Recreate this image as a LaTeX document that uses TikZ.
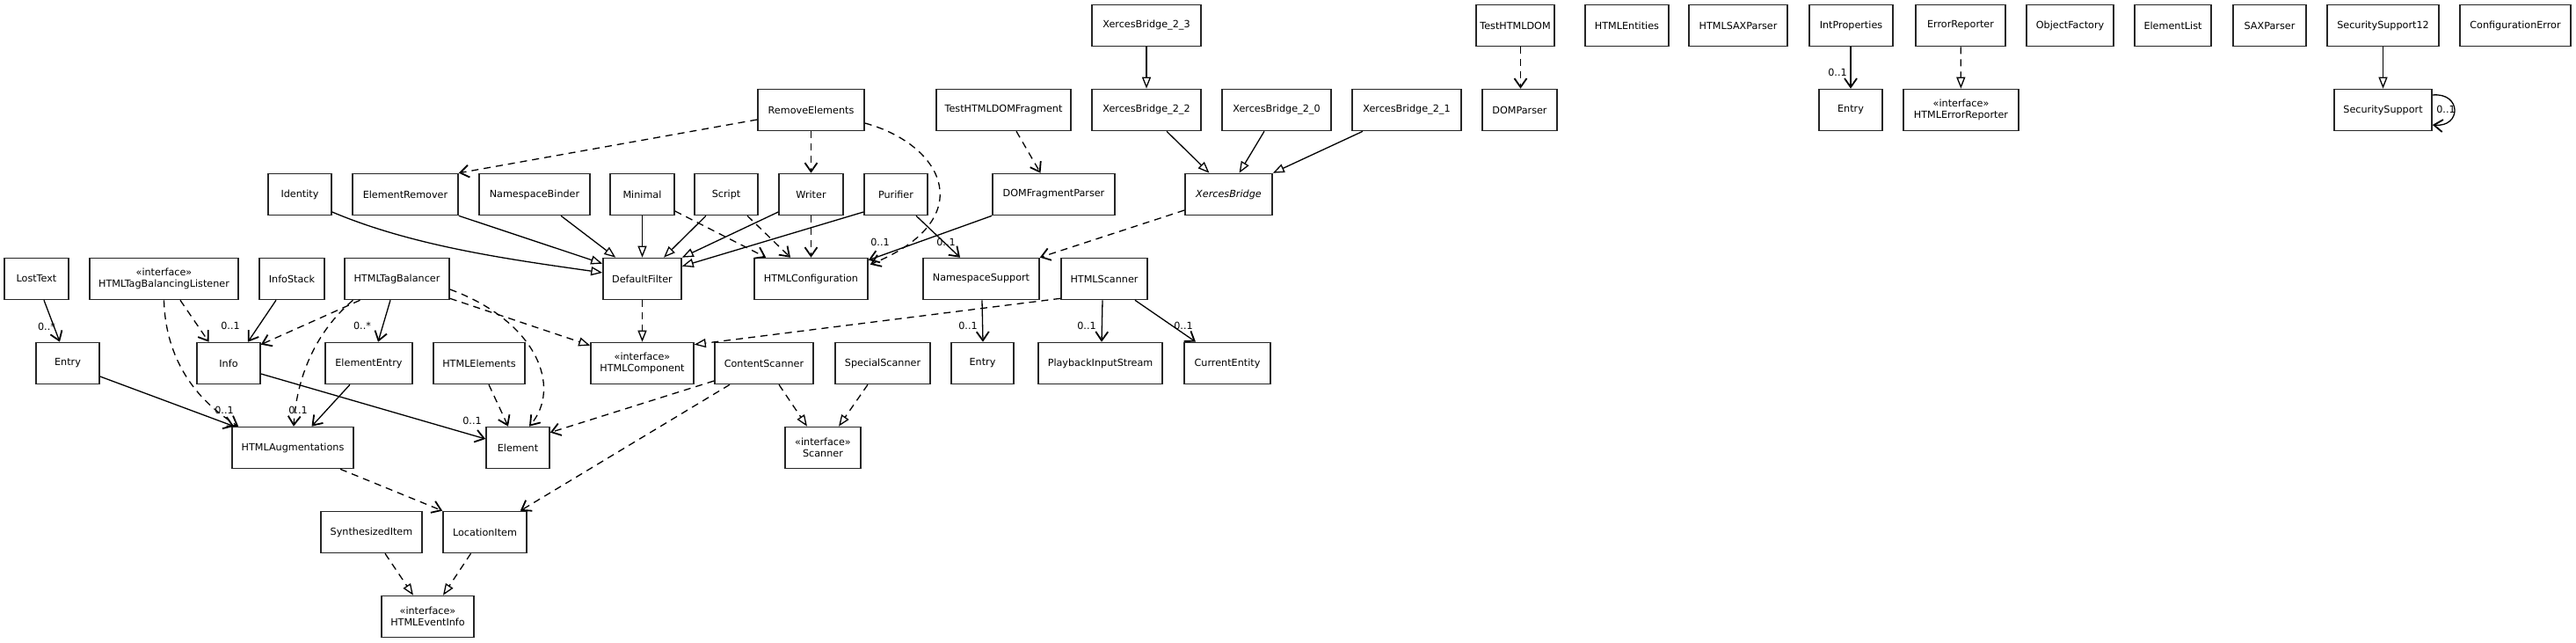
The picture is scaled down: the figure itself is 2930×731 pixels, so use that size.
\documentclass[tikz,border=0pt]{standalone}
\usepackage{fontspec}
\setmainfont{DejaVu Sans}
\usetikzlibrary{arrows.meta,calc}
\begin{document}
\begin{tikzpicture}[x=0.5pt,y=-0.5pt,
  box/.style={draw=black!85,line width=0.8pt,minimum height=23.5pt,inner sep=0pt,align=center,font=\fontsize{5.6}{6.4}\selectfont,text=black},
  bw/.style={minimum width=#1pt},
  lbl/.style={inner sep=0pt,font=\fontsize{5.6}{6.4}\selectfont,text=black},
  conn/.style={line width=0.65pt},
  dep/.style={conn,dash pattern=on 4pt off 3pt,-{Straight Barb[length=5pt,width=7pt,line width=0.9pt]}},
  assoc/.style={conn,-{Straight Barb[length=5pt,width=7pt,line width=0.9pt]}},
  gen/.style={conn,-{Triangle[length=6.5pt,width=5pt,fill=white]}},
  real/.style={conn,dash pattern=on 4pt off 3pt,-{Triangle[length=6.5pt,width=5pt,fill=white]}},
]
\useasboundingbox (0,0) rectangle (2930,731);
\fill[white] (0,0) rectangle (2930,731);

% Row 0
\node[box,bw=62] (xbb) at (1304,29) {XercesBridge\_2\_3};
\node[box,bw=44.5] (testdom) at (1723.5,29) {TestHTMLDOM};
\node[box,bw=47.5] (entities) at (1850.5,29) {HTMLEntities};
\node[box,bw=56] (htmlsax) at (1977,29) {HTMLSAXParser};
\node[box,bw=47.5] (intprops) at (2105.5,29) {IntProperties};
\node[box,bw=51] (errrep) at (2230,29) {ErrorReporter};
\node[box,bw=49.5] (objfac) at (2354.5,29) {ObjectFactory};
\node[box,bw=43.5] (elist) at (2471.5,29) {ElementList};
\node[box,bw=41.5] (saxp) at (2581.5,29) {SAXParser};
\node[box,bw=63.5] (ss12) at (2710.5,29) {SecuritySupport12};
\node[box,bw=63] (conferr) at (2861,29) {ConfigurationError};

% Row 1
\node[box,bw=60.5] (remel) at (922.5,125) {RemoveElements};
\node[box,bw=76.5] (tdf) at (1141.5,125) {TestHTMLDOMFragment};
\node[box,bw=62] (xbc) at (1304,125) {XercesBridge\_2\_2};
\node[box,bw=62] (xbd) at (1452,125) {XercesBridge\_2\_0};
\node[box,bw=62] (xbe) at (1600,125) {XercesBridge\_2\_1};
\node[box,bw=42.5] (domparser) at (1728.5,125) {DOMParser};
\node[box,bw=36] (ipentry) at (2105,125) {Entry};
\node[box,bw=65.5] (htmlerr) at (2230.5,125) {«interface»\\HTMLErrorReporter};
\node[box,bw=55.5] (ss) at (2710.5,125) {SecuritySupport};

% Row 2
\node[box,bw=36] (identity) at (341,221) {Identity};
\node[box,bw=60] (elremover) at (461,221) {ElementRemover};
\node[box,bw=63] (nsbinder) at (608,221) {NamespaceBinder};
\node[box,bw=36.5] (minimal) at (730.5,221) {Minimal};
\node[box,bw=36] (script) at (826,221) {Script};
\node[box,bw=36.5] (writer) at (922.5,221) {Writer};
\node[box,bw=36] (purifier) at (1019,221) {Purifier};
\node[box,bw=69.5] (domfp) at (1198.5,221) {DOMFragmentParser};
\node[box,bw=49.5] (xb) at (1397.5,221) {\itshape XercesBridge};

% Row 3
\node[box,bw=36.5] (losttext) at (41.5,317) {LostText};
\node[box,bw=84.5] (tblistener) at (186.5,317) {«interface»\\HTMLTagBalancingListener};
\node[box,bw=37] (infostack) at (332,317) {InfoStack};
\node[box,bw=59.5] (tagbal) at (451.5,317) {HTMLTagBalancer};
\node[box,bw=44.5] (deffilter) at (730.5,317) {DefaultFilter};
\node[box,bw=64.5] (htmlconf) at (922.5,317) {HTMLConfiguration};
\node[box,bw=66] (nssupport) at (1116,317) {NamespaceSupport};
\node[box,bw=49] (htmlscanner) at (1256,317) {HTMLScanner};

% Row 4
\node[box,bw=36] (entrya) at (77,413) {Entry};
\node[box,bw=36] (info) at (260,413) {Info};
\node[box,bw=49.5] (elentry) at (419.5,413) {ElementEntry};
\node[box,bw=52] (htmlelements) at (545,413) {HTMLElements};
\node[box,bw=58.5] (htmlcomp) at (730.5,413) {«interface»\\HTMLComponent};
\node[box,bw=56] (contscan) at (869,413) {ContentScanner};
\node[box,bw=54] (specscan) at (1004,413) {SpecialScanner};
\node[box,bw=35.5] (nsentry) at (1117.5,413) {Entry};
\node[box,bw=70.5] (playback) at (1251.5,413) {PlaybackInputStream};
\node[box,bw=49] (curent) at (1396,413) {CurrentEntity};

% Row 5
\node[box,bw=69] (aug) at (333,509) {HTMLAugmentations};
\node[box,bw=36] (element) at (589,509) {Element};
\node[box,bw=43] (scanner) at (936,509) {«interface»\\Scanner};

% Row 6
\node[box,bw=57.5] (synth) at (422.5,605) {SynthesizedItem};
\node[box,bw=47.5] (locitem) at (551.5,605) {LocationItem};

% Row 7
\node[box,bw=52.5] (eventinfo) at (486.5,701) {«interface»\\HTMLEventInfo};

% Connectors
\draw[gen] (xbb) -- (xbc);
\draw[gen] ($(xbc.south)+(23,0)$) -- ($(xb.north)+(-22,0)$);
\draw[gen] ($(xbd.south)+(-14,0)$) -- ($(xb.north)+(12,0)$);
\draw[gen] ($(xbe.south)+(-50,0)$) -- (xb.north east);
\draw[dep] ($(xb.west)+(0,18)$) -- (nssupport.north east);
\draw[dep] ($(tdf.south)+(14.5,0)$) -- ($(domfp.north)+(-15,0)$);
\draw[assoc] (domfp.south west) -- ($(htmlconf.north east)+(0,3)$);
\draw[dep] (remel) -- (writer);
\draw[dep] ($(remel.west)+(0,11)$) -- (elremover.north east);
\draw[dep] ($(remel.east)+(0,15)$) .. controls (1075,165) and (1115,250) .. ($(htmlconf.north east)+(2,8)$);
\draw[dep] (writer) -- (htmlconf);
\draw[gen] ($(writer.west)+(0,20)$) -- (deffilter.north east);
\draw[gen] ($(purifier.west)+(0,20)$) -- ($(deffilter.north east)+(0,10)$);
\draw[assoc] ($(purifier.south)+(23,0)$) -- ($(nssupport.north)+(-24,0)$);
\draw[gen] ($(script.south)+(-23,0)$) -- ($(deffilter.north)+(24.5,0)$);
\draw[dep] ($(script.south)+(24,0)$) -- ($(htmlconf.north)+(-23.5,0)$);
\draw[gen] (minimal) -- (deffilter);
\draw[dep] ($(minimal.east)+(0,19)$) -- ($(htmlconf.north west)+(14,0)$);
\draw[gen] ($(nsbinder.south)+(30,0)$) -- ($(deffilter.north west)+(15,0)$);
\draw[gen] (elremover.south east) -- ($(deffilter.north west)+(0,7)$);
\draw[gen] ($(identity.east)+(0,20)$) .. controls (470,280) and (580,295) .. ($(deffilter.west)+(0,-7)$);
\draw[real] (deffilter) -- (htmlcomp);
\draw[real] ($(tagbal.south east)+(0,-2)$) -- ($(htmlcomp.north west)+(0,4)$);
\draw[dep] ($(tagbal.east)+(0,12)$) .. controls (610,365) and (640,440) .. ($(element.north)+(13,0)$);
\draw[dep] ($(tagbal.south)+(-42,0)$) -- ($(info.north east)+(0,3)$);
\draw[dep] ($(tagbal.south)+(-50,0)$) .. controls (365,372) and (338,420) .. ($(aug.north)+(1,0)$);
\draw[assoc] ($(tagbal.south)+(-7.5,0)$) -- ($(elentry.north)+(10.5,0)$);
\draw[assoc] ($(infostack.south)+(-18,0)$) -- ($(info.north)+(22,0)$);
\draw[dep] ($(tblistener.south)+(18.5,0)$) -- ($(info.north)+(-22.5,0)$);
\draw[dep] (tblistener.south) .. controls (188,400) and (215,450) .. ($(aug.north west)+(8,0)$);
\draw[assoc] ($(losttext.south)+(8.5,0)$) -- ($(entrya.north)+(-9,0)$);
\draw[assoc] ($(entrya.east)+(0,15)$) -- ($(aug.north west)+(3,0)$);
\draw[assoc] ($(info.east)+(0,12)$) -- ($(element.west)+(0,-10)$);
\draw[assoc] ($(elentry.south)+(-21.5,0)$) -- ($(aug.north)+(21.5,0)$);
\draw[dep] ($(htmlelements.south)+(11,0)$) -- ($(element.north)+(-11,0)$);
\draw[dep] ($(aug.south)+(54,0)$) -- (locitem.north west);
\draw[dep] ($(contscan.west)+(0,20)$) -- ($(element.north east)+(0,7)$);
\draw[dep] ($(contscan.south)+(-39,0)$) -- ($(locitem.north east)+(-8,0)$);
\draw[real] ($(contscan.south)+(17,0)$) -- ($(scanner.north)+(-18,0)$);
\draw[real] ($(specscan.south)+(-17,0)$) -- ($(scanner.north)+(18,0)$);
\draw[real] ($(synth.south)+(15.5,0)$) -- ($(eventinfo.north)+(-16.5,0)$);
\draw[real] ($(locitem.south)+(-16,0)$) -- ($(eventinfo.north)+(17.5,0)$);
\draw[real] ($(htmlscanner.south west)+(0,-2)$) -- ($(htmlcomp.north east)+(0,3)$);
\draw[assoc] ($(nssupport.south)+(1,0)$) -- ($(nsentry.north)+(0.5,0)$);
\draw[assoc] ($(htmlscanner.south)+(-2,0)$) -- ($(playback.north)+(1.5,0)$);
\draw[assoc] ($(htmlscanner.south)+(35,0)$) -- ($(curent.north)+(-36,0)$);
\draw[dep] ($(testdom.south)+(6,0)$) -- ($(domparser.north)+(1,0)$);
\draw[assoc] ($(intprops.south)+(-0.5,0)$) -- (ipentry.north);
\draw[real] (errrep) -- (htmlerr);
\draw[gen] (ss12) -- (ss);
\draw[assoc] ($(ss.east)+(0,-17)$) .. controls (2800,105) and (2800,145) .. ($(ss.east)+(0,17)$);

% Multiplicity labels
\node[lbl] (m1) at (53,371) {0..*};
\node[lbl] (m2) at (262,370) {0..1};
\node[lbl] (m3) at (412,370) {0..*};
\node[lbl] (m4) at (255,466) {0..1};
\node[lbl] (m5) at (339,466) {0..1};
\node[lbl] (m6) at (537,478) {0..1};
\node[lbl] (m7) at (1001,275) {0..1};
\node[lbl] (m8) at (1076,275) {0..1};
\node[lbl] (m9) at (1101,370) {0..1};
\node[lbl] (m10) at (1236,370) {0..1};
\node[lbl] (m11) at (1346,370) {0..1};
\node[lbl] (m12) at (2090,82) {0..1};
\node[lbl] (m13) at (2782,124) {0..1};
\end{tikzpicture}
\end{document}
